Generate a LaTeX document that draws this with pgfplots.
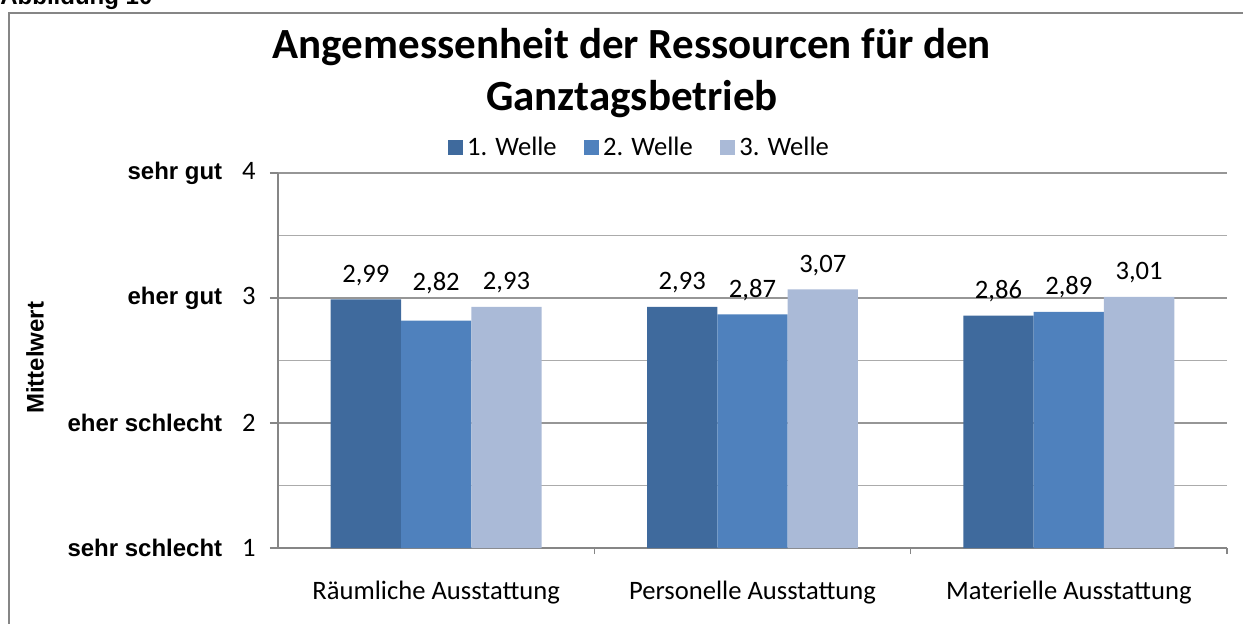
\documentclass[border=0pt]{standalone}
\usepackage{fontspec}
\usepackage{pgfplots}
\pgfplotsset{compat=1.18}
\setmainfont{Carlito}
\newfontfamily\arial{Liberation Sans}
\definecolor{c1}{RGB}{63,106,157}
\definecolor{c2}{RGB}{79,129,189}
\definecolor{c3}{RGB}{170,186,215}
\definecolor{axgray}{RGB}{134,134,134}
\definecolor{gridgray}{RGB}{150,150,150}
\newcommand{\lab}[1]{{\fontsize{12}{14}\selectfont\arial\bfseries #1}}
\pgfplotsset{sqlegend/.style={legend image code/.code={\fill[##1] (0pt,-3.75pt) rectangle (7.5pt,3.75pt);}}}
\begin{document}
\begin{tikzpicture}
\useasboundingbox (0,0) rectangle (621.5pt,-311.5pt);
\draw[axgray, line width=0.75pt] (4.5pt,-330pt) -- (4.5pt,-6.5pt) -- (640pt,-6.5pt);
\node[anchor=base west, inner sep=0pt, font=\fontsize{12}{14}\selectfont\arial\bfseries] at (0pt,-2pt) {Abbildung 10};
\node[anchor=base, inner sep=0pt, font=\fontsize{21.5}{25}\selectfont\bfseries] at (316pt,-29pt) {Angemessenheit der Ressourcen für den};
\node[anchor=base, inner sep=0pt, font=\fontsize{21.5}{25}\selectfont\bfseries] at (316pt,-55pt) {Ganztagsbetrieb};
\begin{axis}[
  at={(139pt,-274pt)}, anchor=south west,
  width=474.5pt, height=187.5pt, scale only axis,
  ybar=0pt, bar width=35.15pt,
  ymin=1, ymax=4, xmin=-0.5, xmax=2.5,
  ytick={1,2,3,4},
  yticklabels={{\lab{sehr schlecht}\hspace{10pt}1},{\lab{eher schlecht}\hspace{10pt}2},{\lab{eher gut}\hspace{10pt}3},{\lab{sehr gut}\hspace{10pt}4}},
  minor ytick={1.5,2.5,3.5},
  ymajorgrids, yminorgrids,
  major grid style={draw=gridgray, line width=0.75pt},
  minor grid style={draw=gridgray!80, line width=0.75pt},
  xtick={0,1,2},
  xticklabels={Räumliche Ausstattung, Personelle Ausstattung, Materielle Ausstattung},
  minor xtick={0.5,1.5,2.5},
  major x tick style={draw=none},
  minor y tick style={draw=none},
  tick align=outside,
  major tick length=4pt, minor tick length=3pt,
  tick style={draw=axgray, line width=0.75pt},
  axis x line*=bottom, axis y line*=left,
  axis line style={draw=axgray, line width=0.75pt},
  tick label style={font=\fontsize{13.3}{16}\selectfont},
  yticklabel style={anchor=east, xshift=-3.6pt},
  xticklabel style={anchor=base, yshift=-21.5pt},
  ylabel={\lab{Mittelwert}},
  ylabel style={at={(axis description cs:-0.256,0.507)}, anchor=center},
  legend style={at={(0.382,1.067)}, anchor=center, draw=none, fill=none, legend columns=3,
    font=\fontsize{13.3}{16}\selectfont,
    /tikz/every even column/.append style={column sep=11.75pt},
    legend cell align=left},
  visualization depends on={\thisrow{dy} \as \dy},
  nodes near coords={\pgfmathprintnumber[fixed,fixed zerofill,precision=2,use comma,assume math mode=true]{\pgfplotspointmeta}},
  nodes near coords style={font=\fontsize{13.3}{16}\selectfont, text=black, yshift={3.3pt+\dy pt}},
]
\addplot[fill=c1, draw=none, sqlegend] table[x=x, y=y] {
x y dy
0 2.99 0
1 2.93 0
2 2.86 0
};
\addplot[fill=c2, draw=none, sqlegend] table[x=x, y=y] {
x y dy
0 2.82 6.7
1 2.87 0
2 2.89 0
};
\addplot[fill=c3, draw=none, sqlegend] table[x=x, y=y] {
x y dy
0 2.93 0
1 3.07 0
2 3.01 0
};
\legend{1. Welle, 2. Welle, 3. Welle}
\end{axis}
\end{tikzpicture}
\end{document}
